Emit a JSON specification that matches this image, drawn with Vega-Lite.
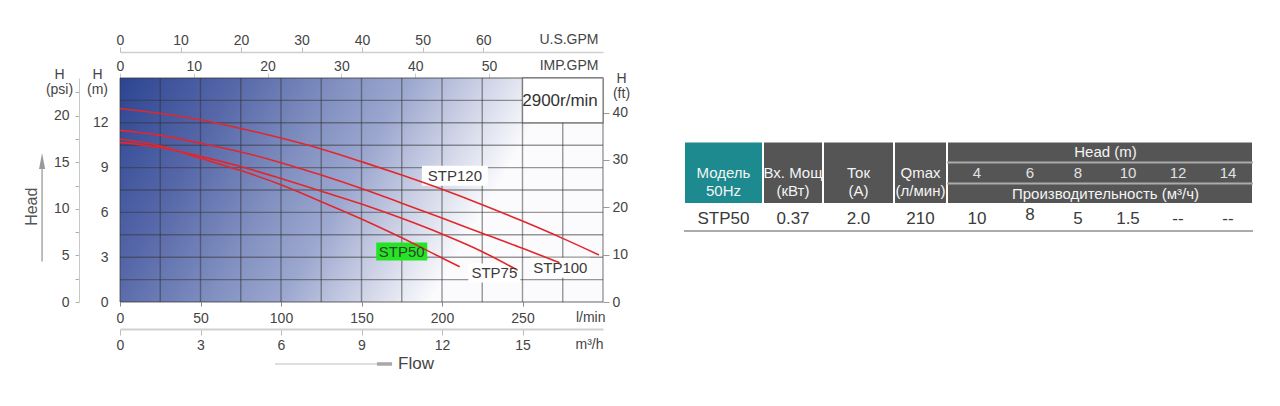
{
  "$schema": "https://vega.github.io/schema/vega-lite/v6.json",
  "width": 483,
  "height": 224,
  "autosize": {"type": "none"},
  "padding": {"left": 120, "top": 78, "right": 677, "bottom": 104},
  "background": "white",
  "config": {
    "view": {"stroke": null},
    "font": "Liberation Sans",
    "axis": {
      "labelFont": "Liberation Sans", "titleFont": "Liberation Sans",
      "labelFontSize": 14, "titleFontSize": 14,
      "labelColor": "#444444", "titleColor": "#444444",
      "titleFontWeight": "normal", "grid": false, "domain": false,
      "labelFlush": false, "labelOverlap": false
    }
  },
  "datasets": {
    "curves": [
      {"model": "STP120", "flow": 0, "head": 12.96},
      {"model": "STP120", "flow": 25, "head": 12.62},
      {"model": "STP120", "flow": 50, "head": 12.2},
      {"model": "STP120", "flow": 75, "head": 11.62},
      {"model": "STP120", "flow": 100, "head": 10.98},
      {"model": "STP120", "flow": 125, "head": 10.25},
      {"model": "STP120", "flow": 150, "head": 9.4},
      {"model": "STP120", "flow": 175, "head": 8.5},
      {"model": "STP120", "flow": 200, "head": 7.55},
      {"model": "STP120", "flow": 225, "head": 6.52},
      {"model": "STP120", "flow": 250, "head": 5.42},
      {"model": "STP120", "flow": 275, "head": 4.26},
      {"model": "STP120", "flow": 297.5, "head": 3.15},
      {"model": "STP100", "flow": 0, "head": 11.49},
      {"model": "STP100", "flow": 25, "head": 11.16},
      {"model": "STP100", "flow": 50, "head": 10.63},
      {"model": "STP100", "flow": 75, "head": 10.05},
      {"model": "STP100", "flow": 100, "head": 9.33},
      {"model": "STP100", "flow": 125, "head": 8.5},
      {"model": "STP100", "flow": 150, "head": 7.6},
      {"model": "STP100", "flow": 175, "head": 6.62},
      {"model": "STP100", "flow": 200, "head": 5.62},
      {"model": "STP100", "flow": 225, "head": 4.6},
      {"model": "STP100", "flow": 250, "head": 3.6},
      {"model": "STP100", "flow": 273, "head": 2.63},
      {"model": "STP75", "flow": 0, "head": 10.69},
      {"model": "STP75", "flow": 25, "head": 10.35},
      {"model": "STP75", "flow": 50, "head": 9.75},
      {"model": "STP75", "flow": 75, "head": 9.07},
      {"model": "STP75", "flow": 100, "head": 8.27},
      {"model": "STP75", "flow": 125, "head": 7.42},
      {"model": "STP75", "flow": 150, "head": 6.56},
      {"model": "STP75", "flow": 175, "head": 5.6},
      {"model": "STP75", "flow": 200, "head": 4.55},
      {"model": "STP75", "flow": 225, "head": 3.37},
      {"model": "STP75", "flow": 247, "head": 2.13},
      {"model": "STP50", "flow": 0, "head": 10.91},
      {"model": "STP50", "flow": 25, "head": 10.45},
      {"model": "STP50", "flow": 50, "head": 9.62},
      {"model": "STP50", "flow": 75, "head": 8.8},
      {"model": "STP50", "flow": 100, "head": 7.85},
      {"model": "STP50", "flow": 125, "head": 6.72},
      {"model": "STP50", "flow": 150, "head": 5.56},
      {"model": "STP50", "flow": 175, "head": 4.3},
      {"model": "STP50", "flow": 200, "head": 2.95},
      {"model": "STP50", "flow": 211, "head": 2.36}
    ],
    "vgrid": [
      {"gx": 0}, {"gx": 25}, {"gx": 50}, {"gx": 75}, {"gx": 100}, {"gx": 125}, {"gx": 150},
      {"gx": 175}, {"gx": 200}, {"gx": 225}, {"gx": 250}, {"gx": 275}, {"gx": 300}
    ],
    "hgrid": [
      {"gy": 0}, {"gy": 1.5}, {"gy": 3}, {"gy": 4.5}, {"gy": 6}, {"gy": 7.5},
      {"gy": 9}, {"gy": 10.5}, {"gy": 12}, {"gy": 13.5}, {"gy": 15}
    ],
    "labels": [
      {"label": "STP120", "x": 208, "y": 8.45},
      {"label": "STP100", "x": 273.5, "y": 2.3},
      {"label": "STP75", "x": 232.5, "y": 1.95},
      {"label": "STP50", "x": 175, "y": 3.38}
    ],
    "cells": [
      {"kind": "model", "c0": 0, "c1": 1, "r0": 0, "r1": 3},
      {"kind": "spec", "c0": 1, "c1": 2, "r0": 0, "r1": 3},
      {"kind": "spec", "c0": 2, "c1": 3, "r0": 0, "r1": 3},
      {"kind": "spec", "c0": 3, "c1": 4, "r0": 0, "r1": 3},
      {"kind": "spec", "c0": 4, "c1": 10, "r0": 0, "r1": 3}
    ],
    "tlines": [
      {"c0": 4, "c1": 10, "r": 1},
      {"c0": 4, "c1": 10, "r": 2},
      {"c0": 0, "c1": 10, "r": 4}
    ],
    "ttext": [
      {"part": "hdr", "c": 0.5, "r": 1.5, "t": "Модель\n50Hz"},
      {"part": "hdr", "c": 1.5, "r": 1.5, "t": "Вх. Мощ\n(кВт)"},
      {"part": "hdr", "c": 2.5, "r": 1.5, "t": "Ток\n(А)"},
      {"part": "hdr", "c": 3.5, "r": 1.5, "t": "Qmax\n(л/мин)"},
      {"part": "hdr", "c": 7.05, "r": 0.5, "t": "Head (m)"},
      {"part": "num", "c": 4.5, "r": 1.5, "t": "4"},
      {"part": "num", "c": 5.5, "r": 1.5, "t": "6"},
      {"part": "num", "c": 6.5, "r": 1.5, "t": "8"},
      {"part": "num", "c": 7.5, "r": 1.5, "t": "10"},
      {"part": "num", "c": 8.5, "r": 1.5, "t": "12"},
      {"part": "num", "c": 9.5, "r": 1.5, "t": "14"},
      {"part": "hdr", "c": 7.05, "r": 2.5, "t": "Производительность (м³/ч)"},
      {"part": "body", "c": 0.5, "r": 3.55, "t": "STP50"},
      {"part": "body", "c": 1.5, "r": 3.55, "t": "0.37"},
      {"part": "body", "c": 2.5, "r": 3.55, "t": "2.0"},
      {"part": "body", "c": 3.5, "r": 3.55, "t": "210"},
      {"part": "body", "c": 4.5, "r": 3.55, "t": "10"},
      {"part": "body", "c": 5.5, "r": 3.4, "t": "8"},
      {"part": "body", "c": 6.5, "r": 3.55, "t": "5"},
      {"part": "body", "c": 7.5, "r": 3.55, "t": "1.5"},
      {"part": "body", "c": 8.5, "r": 3.55, "t": "--"},
      {"part": "body", "c": 9.5, "r": 3.55, "t": "--"}
    ]
  },
  "layer": [
    {
      "layer": [
        {
          "data": {"values": [{}]},
          "mark": {
            "type": "rect",
            "fill": {
              "gradient": "linear", "x1": 0, "y1": 0, "x2": 0.85, "y2": 0.23,
              "stops": [
                {"offset": 0, "color": "#2c4592"},
                {"offset": 0.27, "color": "#5768a9"},
                {"offset": 0.5, "color": "#8190c0"},
                {"offset": 0.66, "color": "#9ca7cf"},
                {"offset": 0.8, "color": "#c4cae1"},
                {"offset": 1, "color": "#fbfbfd"}
              ]
            }
          },
          "encoding": {
            "x": {"datum": 0, "type": "quantitative", "scale": {"domain": [0, 300], "nice": false, "zero": false}, "axis": null},
            "x2": {"datum": 300},
            "y": {"datum": 0, "type": "quantitative", "scale": {"domain": [0, 15], "nice": false, "zero": false}, "axis": null},
            "y2": {"datum": 15}
          }
        },
        {
          "data": {"name": "vgrid"},
          "mark": {"type": "rule", "color": "#333333", "opacity": 0.5, "strokeWidth": 1.4},
          "encoding": {
            "x": {"field": "gx", "type": "quantitative", "scale": {"domain": [0, 300], "nice": false, "zero": false}, "axis": null}
          }
        },
        {
          "data": {"name": "hgrid"},
          "mark": {"type": "rule", "color": "#333333", "opacity": 0.5, "strokeWidth": 1.4},
          "encoding": {
            "y": {"field": "gy", "type": "quantitative", "scale": {"domain": [0, 15], "nice": false, "zero": false}, "axis": null}
          }
        },
        {
          "data": {"values": [{}]},
          "mark": {"type": "rect", "fill": "white", "stroke": "#333333", "strokeOpacity": 0.5, "strokeWidth": 1.4},
          "encoding": {
            "x": {"datum": 250, "type": "quantitative", "scale": {"domain": [0, 300], "nice": false, "zero": false}, "axis": null},
            "x2": {"datum": 300},
            "y": {"datum": 12, "type": "quantitative", "scale": {"domain": [0, 15], "nice": false, "zero": false}, "axis": null},
            "y2": {"datum": 15}
          }
        },
        {
          "data": {"name": "labels"},
          "transform": [{"filter": "datum.label === 'STP120'"}],
          "mark": {"type": "rect", "fill": "white", "width": 66, "height": 20},
          "encoding": {
            "x": {"field": "x", "type": "quantitative", "scale": {"domain": [0, 300], "nice": false, "zero": false}, "axis": null},
            "y": {"field": "y", "type": "quantitative", "scale": {"domain": [0, 15], "nice": false, "zero": false}, "axis": null}
          }
        },
        {
          "data": {"name": "labels"},
          "transform": [{"filter": "datum.label === 'STP100'"}],
          "mark": {"type": "rect", "fill": "white", "width": 60, "height": 20},
          "encoding": {
            "x": {"field": "x", "type": "quantitative", "scale": {"domain": [0, 300], "nice": false, "zero": false}, "axis": null},
            "y": {"field": "y", "type": "quantitative", "scale": {"domain": [0, 15], "nice": false, "zero": false}, "axis": null}
          }
        },
        {
          "data": {"name": "labels"},
          "transform": [{"filter": "datum.label === 'STP75'"}],
          "mark": {"type": "rect", "fill": "white", "width": 52, "height": 19},
          "encoding": {
            "x": {"field": "x", "type": "quantitative", "scale": {"domain": [0, 300], "nice": false, "zero": false}, "axis": null},
            "y": {"field": "y", "type": "quantitative", "scale": {"domain": [0, 15], "nice": false, "zero": false}, "axis": null}
          }
        },
        {
          "data": {"name": "labels"},
          "transform": [{"filter": "datum.label === 'STP50'"}],
          "mark": {"type": "rect", "fill": "#22e622", "width": 51, "height": 18},
          "encoding": {
            "x": {"field": "x", "type": "quantitative", "scale": {"domain": [0, 300], "nice": false, "zero": false}, "axis": null},
            "y": {"field": "y", "type": "quantitative", "scale": {"domain": [0, 15], "nice": false, "zero": false}, "axis": null}
          }
        },
        {
          "data": {"name": "curves"},
          "mark": {"type": "line", "interpolate": "monotone", "strokeWidth": 1.6, "color": "#e3262b"},
          "encoding": {
            "x": {"field": "flow", "type": "quantitative", "scale": {"domain": [0, 300], "nice": false, "zero": false}, "axis": null},
            "y": {"field": "head", "type": "quantitative", "scale": {"domain": [0, 15], "nice": false, "zero": false}, "axis": null},
            "detail": {"field": "model"}
          }
        },
        {
          "data": {"name": "labels"},
          "mark": {"type": "text", "fontSize": 15, "color": "#3a3a3a", "align": "center", "baseline": "middle"},
          "encoding": {
            "x": {"field": "x", "type": "quantitative", "scale": {"domain": [0, 300], "nice": false, "zero": false}, "axis": null},
            "y": {"field": "y", "type": "quantitative", "scale": {"domain": [0, 15], "nice": false, "zero": false}, "axis": null},
            "text": {"field": "label"}
          }
        },
        {
          "data": {"values": [{}]},
          "mark": {"type": "text", "fontSize": 17, "color": "#333333", "align": "center", "baseline": "middle", "text": "2900r/min"},
          "encoding": {
            "x": {"datum": 273.3, "type": "quantitative", "scale": {"domain": [0, 300], "nice": false, "zero": false}, "axis": null},
            "y": {"datum": 13.45, "type": "quantitative", "scale": {"domain": [0, 15], "nice": false, "zero": false}, "axis": null}
          }
        },
        {
          "data": {"values": [{}]},
          "mark": {"type": "text", "fontSize": 16, "color": "#555555", "align": "center", "baseline": "middle", "angle": 270, "text": "Head"},
          "encoding": {
            "x": {"datum": -54.7, "type": "quantitative", "scale": {"domain": [0, 300], "nice": false, "zero": false}, "axis": null},
            "y": {"datum": 6.38, "type": "quantitative", "scale": {"domain": [0, 15], "nice": false, "zero": false}, "axis": null}
          }
        },
        {
          "data": {"values": [{}]},
          "mark": {"type": "rule", "color": "#a8a8a8", "strokeWidth": 1.5},
          "encoding": {
            "x": {"datum": -48.4, "type": "quantitative", "scale": {"domain": [0, 300], "nice": false, "zero": false}, "axis": null},
            "y": {"datum": 2.71, "type": "quantitative", "scale": {"domain": [0, 15], "nice": false, "zero": false}, "axis": null},
            "y2": {"datum": 9.0}
          }
        },
        {
          "data": {"values": [{}]},
          "mark": {"type": "point", "shape": "M0,-1L0.38,1L-0.38,1Z", "size": 256, "filled": true, "opacity": 1, "color": "#999999"},
          "encoding": {
            "x": {"datum": -48.4, "type": "quantitative", "scale": {"domain": [0, 300], "nice": false, "zero": false}, "axis": null},
            "y": {"datum": 9.45, "type": "quantitative", "scale": {"domain": [0, 15], "nice": false, "zero": false}, "axis": null}
          }
        },
        {
          "data": {"values": [{}]},
          "mark": {"type": "rule", "color": "#bdbdbd", "strokeWidth": 1},
          "encoding": {
            "x": {"datum": 96.3, "type": "quantitative", "scale": {"domain": [0, 300], "nice": false, "zero": false}, "axis": null},
            "x2": {"datum": 160},
            "y": {"datum": -4.15, "type": "quantitative", "scale": {"domain": [0, 15], "nice": false, "zero": false}, "axis": null}
          }
        },
        {
          "data": {"values": [{}]},
          "mark": {"type": "rule", "color": "#a8a8a8", "strokeWidth": 3.5},
          "encoding": {
            "x": {"datum": 159.6, "type": "quantitative", "scale": {"domain": [0, 300], "nice": false, "zero": false}, "axis": null},
            "x2": {"datum": 169},
            "y": {"datum": -4.15, "type": "quantitative", "scale": {"domain": [0, 15], "nice": false, "zero": false}, "axis": null}
          }
        },
        {
          "data": {"values": [{}]},
          "mark": {"type": "text", "fontSize": 17, "color": "#444444", "align": "left", "baseline": "middle", "text": "Flow"},
          "encoding": {
            "x": {"datum": 172.7, "type": "quantitative", "scale": {"domain": [0, 300], "nice": false, "zero": false}, "axis": null},
            "y": {"datum": -4.15, "type": "quantitative", "scale": {"domain": [0, 15], "nice": false, "zero": false}, "axis": null}
          }
        }
      ]
    },
    {
      "data": {"values": [{"lmin": 0, "m": 0}]},
      "mark": {"type": "point", "opacity": 0},
      "encoding": {
        "x": {
          "field": "lmin", "type": "quantitative",
          "scale": {"domain": [0, 300], "nice": false, "zero": false},
          "axis": {
            "orient": "bottom", "values": [0, 50, 100, 150, 200, 250],
            "tickSize": 4, "tickColor": "#888888", "labelPadding": 5,
            "title": "l/min", "titleX": 485, "titleY": 15.5,
            "titleAlign": "right", "titleBaseline": "middle"
          }
        },
        "y": {
          "field": "m", "type": "quantitative",
          "scale": {"domain": [0, 15], "nice": false, "zero": false},
          "axis": {
            "orient": "left", "values": [0, 3, 6, 9, 12],
            "tickSize": 4, "tickOpacity": 0, "labelPadding": 8,
            "title": ["H", "(m)"], "titleAngle": 0, "titleX": -23, "titleY": 0,
            "titleAlign": "center", "titleBaseline": "alphabetic", "titleLineHeight": 15
          }
        }
      }
    },
    {
      "data": {"values": [{"gpm": 0}]},
      "mark": {"type": "point", "opacity": 0},
      "encoding": {
        "x": {
          "field": "gpm", "type": "quantitative",
          "scale": {"domain": [0, 79.8], "nice": false, "zero": false},
          "axis": {
            "orient": "top", "offset": 26, "values": [0, 10, 20, 30, 40, 50, 60],
            "tickSize": 5, "tickColor": "#bbbbbb", "labelPadding": 0,
            "domain": true, "domainColor": "#cfcfcf", "domainWidth": 1.5,
            "title": "U.S.GPM", "titleX": 478, "titleY": -13,
            "titleAlign": "right", "titleBaseline": "middle"
          }
        }
      }
    },
    {
      "data": {"values": [{"imp": 0}]},
      "mark": {"type": "point", "opacity": 0},
      "encoding": {
        "x": {
          "field": "imp", "type": "quantitative",
          "scale": {"domain": [0, 65.45], "nice": false, "zero": false},
          "axis": {
            "orient": "top", "offset": 0, "values": [0, 10, 20, 30, 40, 50],
            "tickSize": 5, "tickColor": "#cccccc", "labelPadding": 0,
            "domain": false,
            "title": "IMP.GPM", "titleX": 478, "titleY": -13,
            "titleAlign": "right", "titleBaseline": "middle"
          }
        }
      }
    },
    {
      "data": {"values": [{"m3h": 0}]},
      "mark": {"type": "point", "opacity": 0},
      "encoding": {
        "x": {
          "field": "m3h", "type": "quantitative",
          "scale": {"domain": [0, 18], "nice": false, "zero": false},
          "axis": {
            "orient": "bottom", "offset": 27, "values": [0, 3, 6, 9, 12, 15],
            "tickSize": 6, "tickColor": "#bbbbbb", "labelPadding": 3,
            "domain": true, "domainColor": "#d0d0d0", "domainWidth": 2,
            "title": "m³/h", "titleX": 483, "titleY": 15.5,
            "titleAlign": "right", "titleBaseline": "middle"
          }
        }
      }
    },
    {
      "data": {"values": [{"psi": 0}]},
      "mark": {"type": "point", "opacity": 0},
      "encoding": {
        "y": {
          "field": "psi", "type": "quantitative",
          "scale": {"domain": [0, 24.05], "nice": false, "zero": false},
          "axis": {
            "orient": "left", "offset": 41,
            "values": [0, 2.5, 5, 7.5, 10, 12.5, 15, 17.5, 20, 22.5],
            "labelExpr": "datum.value % 5 === 0 ? datum.label : ''",
            "tickSize": 4, "tickColor": "#b0b0b0", "labelPadding": 6,
            "domain": true, "domainColor": "#c8c8c8", "domainWidth": 1,
            "title": ["H", "(psi)"], "titleAngle": 0, "titleX": -20, "titleY": 0,
            "titleAlign": "center", "titleBaseline": "alphabetic", "titleLineHeight": 15
          }
        }
      }
    },
    {
      "data": {"values": [{"ft": 0}]},
      "mark": {"type": "point", "opacity": 0},
      "encoding": {
        "y": {
          "field": "ft", "type": "quantitative",
          "scale": {"domain": [0, 47.3], "nice": false, "zero": false},
          "axis": {
            "orient": "right", "values": [0, 10, 20, 30, 40],
            "tickSize": 6, "tickColor": "#999999", "labelPadding": 3,
            "domain": false,
            "title": ["H", "(ft)"], "titleAngle": 0, "titleX": 18, "titleY": 4,
            "titleAlign": "center", "titleBaseline": "alphabetic", "titleLineHeight": 15
          }
        }
      }
    },
    {
      "layer": [
        {
          "data": {"name": "cells"},
          "mark": {"type": "rect", "stroke": "white", "strokeWidth": 2},
          "encoding": {
            "x": {"field": "c0", "type": "quantitative", "scale": {"domain": [0, 1, 2, 3, 4, 5, 6, 7, 8, 9, 10], "range": [564, 643, 703, 774, 827, 887, 933, 983, 1033, 1083, 1133], "nice": false, "zero": false}, "axis": null},
            "x2": {"field": "c1"},
            "y": {"field": "r0", "type": "quantitative", "scale": {"domain": [0, 1, 2, 3, 4], "range": [63.5, 84.5, 105.5, 126, 153], "nice": false, "zero": false}, "axis": null},
            "y2": {"field": "r1"},
            "color": {"field": "kind", "type": "nominal", "scale": {"domain": ["model", "spec"], "range": ["#1c8a8f", "#555555"]}, "legend": null}
          }
        },
        {
          "data": {"name": "tlines"},
          "mark": {"type": "rule", "color": "#ababab", "strokeWidth": 1.8},
          "encoding": {
            "x": {"field": "c0", "type": "quantitative", "scale": {"domain": [0, 1, 2, 3, 4, 5, 6, 7, 8, 9, 10], "range": [564, 643, 703, 774, 827, 887, 933, 983, 1033, 1083, 1133], "nice": false, "zero": false}, "axis": null},
            "x2": {"field": "c1"},
            "y": {"field": "r", "type": "quantitative", "scale": {"domain": [0, 1, 2, 3, 4], "range": [63.5, 84.5, 105.5, 126, 153], "nice": false, "zero": false}, "axis": null}
          }
        },
        {
          "data": {"name": "ttext"},
          "transform": [{"filter": "datum.part === 'hdr'"}],
          "mark": {"type": "text", "fontSize": 15, "color": "#f4f4f4", "align": "center", "baseline": "middle", "lineBreak": "\n", "lineHeight": 18},
          "encoding": {
            "x": {"field": "c", "type": "quantitative", "scale": {"domain": [0, 1, 2, 3, 4, 5, 6, 7, 8, 9, 10], "range": [564, 643, 703, 774, 827, 887, 933, 983, 1033, 1083, 1133], "nice": false, "zero": false}, "axis": null},
            "y": {"field": "r", "type": "quantitative", "scale": {"domain": [0, 1, 2, 3, 4], "range": [63.5, 84.5, 105.5, 126, 153], "nice": false, "zero": false}, "axis": null},
            "text": {"field": "t"}
          }
        },
        {
          "data": {"name": "ttext"},
          "transform": [{"filter": "datum.part === 'num'"}],
          "mark": {"type": "text", "fontSize": 15, "color": "#e2e2e2", "align": "center", "baseline": "middle"},
          "encoding": {
            "x": {"field": "c", "type": "quantitative", "scale": {"domain": [0, 1, 2, 3, 4, 5, 6, 7, 8, 9, 10], "range": [564, 643, 703, 774, 827, 887, 933, 983, 1033, 1083, 1133], "nice": false, "zero": false}, "axis": null},
            "y": {"field": "r", "type": "quantitative", "scale": {"domain": [0, 1, 2, 3, 4], "range": [63.5, 84.5, 105.5, 126, 153], "nice": false, "zero": false}, "axis": null},
            "text": {"field": "t"}
          }
        },
        {
          "data": {"name": "ttext"},
          "transform": [{"filter": "datum.part === 'body'"}],
          "mark": {"type": "text", "fontSize": 17, "color": "#3a3a3a", "align": "center", "baseline": "middle"},
          "encoding": {
            "x": {"field": "c", "type": "quantitative", "scale": {"domain": [0, 1, 2, 3, 4, 5, 6, 7, 8, 9, 10], "range": [564, 643, 703, 774, 827, 887, 933, 983, 1033, 1083, 1133], "nice": false, "zero": false}, "axis": null},
            "y": {"field": "r", "type": "quantitative", "scale": {"domain": [0, 1, 2, 3, 4], "range": [63.5, 84.5, 105.5, 126, 153], "nice": false, "zero": false}, "axis": null},
            "text": {"field": "t"}
          }
        }
      ]
    }
  ],
  "resolve": {"scale": {"x": "independent", "y": "independent"}}
}
